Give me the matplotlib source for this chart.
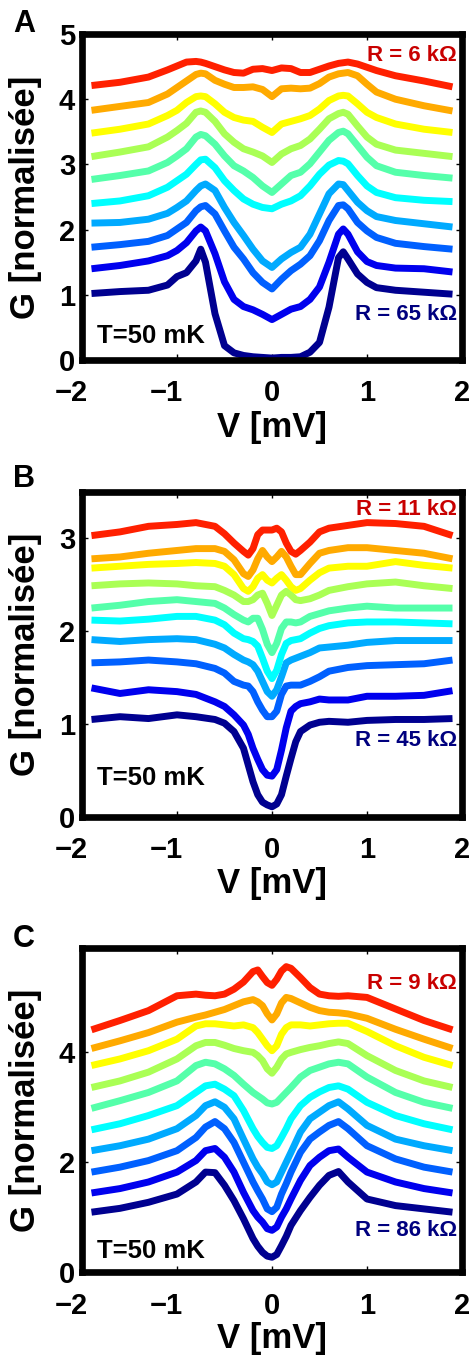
import matplotlib
matplotlib.use("Agg")
import matplotlib.pyplot as plt
from matplotlib.transforms import ScaledTranslation

plt.rcParams["font.family"] = ["Liberation Sans", "DejaVu Sans"]
plt.rcParams["font.weight"] = "bold"
plt.rcParams["axes.labelweight"] = "bold"

# curve colours, top (lowest R) to bottom (highest R)
colors = ["#ff2000", "#ffaa00", "#ffff00", "#aaff55", "#55ffaa",
          "#00ffff", "#00aaff", "#0060ff", "#0000ee", "#000090"]

# ---- panel A ----
v_a = [-1.9, -1.6, -1.3, -1.1, -1.0, -0.9, -0.8, -0.75, -0.7, -0.6, -0.5, -0.4, -0.3, -0.2, -0.1, 0,
       0.1, 0.2, 0.3, 0.4, 0.5, 0.6, 0.7, 0.75, 0.8, 0.9, 1.0, 1.1, 1.3, 1.6, 1.9]
a1 = [4.21, 4.26, 4.34, 4.45, 4.51, 4.57, 4.58, 4.57, 4.55, 4.50, 4.45, 4.41, 4.40, 4.46, 4.47, 4.44,
      4.48, 4.47, 4.41, 4.41, 4.46, 4.51, 4.55, 4.56, 4.57, 4.54, 4.49, 4.44, 4.36, 4.28, 4.19]
a2 = [3.83, 3.89, 3.95, 4.08, 4.18, 4.28, 4.38, 4.40, 4.39, 4.29, 4.23, 4.18, 4.18, 4.19, 4.15, 4.04,
      4.16, 4.17, 4.16, 4.17, 4.24, 4.34, 4.39, 4.40, 4.41, 4.36, 4.23, 4.11, 4.00, 3.90, 3.82]
a3 = [3.48, 3.54, 3.62, 3.75, 3.83, 3.95, 4.04, 4.05, 4.04, 3.93, 3.80, 3.72, 3.68, 3.66, 3.57, 3.49,
      3.62, 3.66, 3.70, 3.75, 3.85, 3.98, 4.05, 4.06, 4.05, 3.93, 3.80, 3.72, 3.62, 3.54, 3.49]
a4 = [3.12, 3.19, 3.27, 3.42, 3.52, 3.63, 3.80, 3.82, 3.80, 3.66, 3.47, 3.34, 3.24, 3.19, 3.13, 3.03,
      3.16, 3.24, 3.29, 3.39, 3.54, 3.70, 3.78, 3.80, 3.77, 3.59, 3.42, 3.31, 3.22, 3.17, 3.12]
a5 = [2.77, 2.83, 2.90, 3.03, 3.13, 3.24, 3.42, 3.46, 3.44, 3.31, 3.13, 2.98, 2.90, 2.80, 2.67, 2.57,
      2.70, 2.83, 2.88, 3.01, 3.19, 3.37, 3.49, 3.51, 3.47, 3.29, 3.11, 2.98, 2.88, 2.83, 2.79]
a6 = [2.40, 2.44, 2.52, 2.65, 2.75, 2.85, 3.00, 3.07, 3.08, 2.95, 2.75, 2.60, 2.47, 2.39, 2.34, 2.32,
      2.39, 2.44, 2.52, 2.67, 2.85, 2.99, 3.06, 3.05, 3.01, 2.83, 2.67, 2.57, 2.49, 2.45, 2.43]
a7 = [2.10, 2.11, 2.16, 2.25, 2.34, 2.44, 2.60, 2.67, 2.70, 2.60, 2.34, 2.11, 1.91, 1.70, 1.52, 1.42,
      1.55, 1.65, 1.73, 1.93, 2.24, 2.55, 2.70, 2.69, 2.60, 2.42, 2.29, 2.20, 2.14, 2.09, 2.04]
a8 = [1.73, 1.77, 1.82, 1.91, 2.01, 2.11, 2.29, 2.35, 2.37, 2.24, 1.98, 1.73, 1.55, 1.34, 1.19, 1.09,
      1.24, 1.37, 1.47, 1.60, 1.83, 2.14, 2.37, 2.38, 2.32, 2.11, 1.98, 1.88, 1.79, 1.74, 1.70]
a9 = [1.40, 1.45, 1.52, 1.60, 1.68, 1.80, 1.98, 2.04, 1.98, 1.63, 1.20, 0.93, 0.82, 0.77, 0.70, 0.62,
      0.70, 0.78, 0.82, 0.93, 1.12, 1.50, 1.93, 2.01, 1.93, 1.66, 1.51, 1.45, 1.41, 1.40, 1.35]
a10 = [1.02, 1.05, 1.07, 1.15, 1.28, 1.34, 1.52, 1.70, 1.50, 0.71, 0.22, 0.11, 0.07, 0.05, 0.04, 0.03,
       0.04, 0.04, 0.05, 0.12, 0.27, 0.81, 1.57, 1.66, 1.55, 1.32, 1.19, 1.11, 1.07, 1.04, 1.01]

# ---- panel B ----
v_b = [-1.9, -1.6, -1.3, -1.0, -0.8, -0.6, -0.5, -0.4, -0.3, -0.25, -0.2, -0.15, -0.1, -0.05, 0,
       0.05, 0.1, 0.15, 0.2, 0.25, 0.3, 0.4, 0.5, 0.6, 0.8, 1.0, 1.3, 1.6, 1.9]
b1 = [3.03, 3.07, 3.13, 3.15, 3.17, 3.13, 3.05, 2.95, 2.86, 2.82, 2.89, 3.04, 3.09, 3.09, 3.09,
      3.11, 3.07, 2.95, 2.86, 2.83, 2.87, 2.96, 3.07, 3.11, 3.14, 3.17, 3.16, 3.13, 3.03]
b2 = [2.78, 2.80, 2.84, 2.87, 2.89, 2.89, 2.86, 2.77, 2.62, 2.59, 2.66, 2.78, 2.87, 2.80, 2.75,
      2.80, 2.86, 2.80, 2.70, 2.61, 2.61, 2.73, 2.84, 2.87, 2.90, 2.90, 2.87, 2.84, 2.78]
b3 = [2.68, 2.70, 2.72, 2.73, 2.74, 2.73, 2.70, 2.61, 2.46, 2.43, 2.48, 2.57, 2.61, 2.55, 2.52,
      2.57, 2.61, 2.55, 2.48, 2.44, 2.46, 2.55, 2.63, 2.68, 2.70, 2.70, 2.75, 2.71, 2.68]
b4 = [2.49, 2.51, 2.52, 2.51, 2.49, 2.48, 2.44, 2.39, 2.32, 2.32, 2.34, 2.39, 2.41, 2.30, 2.17,
      2.28, 2.39, 2.43, 2.39, 2.34, 2.33, 2.35, 2.39, 2.44, 2.48, 2.51, 2.53, 2.49, 2.46]
b5 = [2.25, 2.28, 2.32, 2.34, 2.32, 2.30, 2.25, 2.18, 2.12, 2.10, 2.14, 2.14, 2.02, 1.86, 1.77,
      1.87, 2.03, 2.10, 2.10, 2.09, 2.10, 2.16, 2.19, 2.22, 2.25, 2.27, 2.25, 2.25, 2.25]
b6 = [2.12, 2.11, 2.13, 2.16, 2.16, 2.12, 2.07, 1.98, 1.92, 1.91, 1.89, 1.84, 1.71, 1.57, 1.49,
      1.58, 1.75, 1.87, 1.90, 1.91, 1.92, 1.98, 2.03, 2.06, 2.09, 2.10, 2.10, 2.09, 2.08]
b7 = [1.91, 1.89, 1.91, 1.92, 1.91, 1.86, 1.82, 1.75, 1.69, 1.67, 1.64, 1.57, 1.46, 1.35, 1.30,
      1.37, 1.51, 1.66, 1.69, 1.71, 1.73, 1.77, 1.82, 1.83, 1.85, 1.88, 1.90, 1.90, 1.90]
b8 = [1.66, 1.67, 1.69, 1.67, 1.65, 1.60, 1.55, 1.46, 1.42, 1.41, 1.35, 1.24, 1.15, 1.08, 1.08,
      1.14, 1.32, 1.41, 1.42, 1.42, 1.42, 1.46, 1.51, 1.57, 1.61, 1.63, 1.64, 1.65, 1.69]
b9 = [1.39, 1.33, 1.37, 1.35, 1.32, 1.24, 1.19, 1.10, 0.99, 0.89, 0.74, 0.62, 0.51, 0.45, 0.44,
      0.51, 0.72, 0.96, 1.14, 1.19, 1.22, 1.24, 1.27, 1.26, 1.26, 1.30, 1.30, 1.31, 1.36]
b10 = [1.05, 1.08, 1.06, 1.10, 1.08, 1.05, 1.01, 0.92, 0.74, 0.56, 0.38, 0.24, 0.16, 0.13, 0.11,
       0.14, 0.24, 0.44, 0.63, 0.81, 0.92, 0.99, 1.02, 1.03, 1.02, 1.04, 1.05, 1.05, 1.06]

# ---- panel C ----
v_c = [-1.9, -1.6, -1.3, -1.0, -0.8, -0.7, -0.6, -0.5, -0.4, -0.3, -0.2, -0.15, -0.1, -0.05, 0,
       0.05, 0.1, 0.15, 0.2, 0.3, 0.4, 0.5, 0.6, 0.7, 0.8, 1.0, 1.3, 1.6, 1.9]
c1 = [4.41, 4.58, 4.76, 5.03, 5.06, 5.04, 5.03, 5.06, 5.15, 5.28, 5.47, 5.50, 5.38, 5.27, 5.22,
      5.33, 5.48, 5.56, 5.53, 5.36, 5.18, 5.06, 5.03, 5.02, 5.03, 5.00, 4.79, 4.58, 4.41]
c2 = [4.07, 4.21, 4.36, 4.55, 4.64, 4.68, 4.73, 4.78, 4.85, 4.92, 4.96, 4.92, 4.85, 4.70, 4.59,
      4.70, 4.90, 5.00, 4.98, 4.90, 4.82, 4.76, 4.73, 4.72, 4.70, 4.62, 4.42, 4.24, 4.07]
c3 = [3.76, 3.88, 4.03, 4.24, 4.48, 4.52, 4.52, 4.50, 4.48, 4.50, 4.45, 4.36, 4.24, 4.12, 4.03,
      4.12, 4.33, 4.45, 4.50, 4.50, 4.48, 4.50, 4.52, 4.53, 4.53, 4.38, 4.12, 3.91, 3.76]
c4 = [3.36, 3.48, 3.64, 3.88, 4.12, 4.18, 4.18, 4.13, 4.07, 4.03, 4.00, 3.94, 3.85, 3.70, 3.62,
      3.73, 3.88, 3.97, 4.00, 4.05, 4.09, 4.12, 4.16, 4.19, 4.16, 3.94, 3.67, 3.48, 3.36]
c5 = [2.98, 3.12, 3.27, 3.48, 3.76, 3.82, 3.79, 3.70, 3.58, 3.42, 3.27, 3.21, 3.15, 3.08, 3.06,
      3.09, 3.18, 3.27, 3.36, 3.55, 3.67, 3.73, 3.79, 3.82, 3.79, 3.55, 3.27, 3.09, 2.98]
c6 = [2.59, 2.70, 2.85, 3.03, 3.27, 3.39, 3.42, 3.33, 3.21, 2.94, 2.61, 2.47, 2.36, 2.27, 2.25,
      2.30, 2.45, 2.61, 2.79, 3.03, 3.18, 3.28, 3.36, 3.39, 3.33, 3.09, 2.85, 2.70, 2.59]
c7 = [2.21, 2.30, 2.42, 2.61, 2.85, 3.03, 3.10, 3.00, 2.79, 2.42, 2.06, 1.91, 1.79, 1.64, 1.59,
      1.64, 1.82, 2.00, 2.18, 2.55, 2.79, 2.91, 3.03, 3.10, 2.97, 2.67, 2.42, 2.30, 2.21]
c8 = [1.82, 1.91, 2.03, 2.21, 2.45, 2.64, 2.74, 2.61, 2.36, 2.00, 1.64, 1.48, 1.33, 1.15, 1.10,
      1.18, 1.42, 1.61, 1.82, 2.18, 2.42, 2.55, 2.67, 2.74, 2.61, 2.30, 2.06, 1.91, 1.82]
c9 = [1.44, 1.52, 1.64, 1.82, 2.03, 2.21, 2.25, 2.09, 1.82, 1.45, 1.12, 1.00, 0.91, 0.79, 0.76,
      0.82, 1.00, 1.15, 1.33, 1.67, 1.94, 2.09, 2.21, 2.24, 2.09, 1.82, 1.64, 1.52, 1.44]
c10 = [1.09, 1.16, 1.27, 1.42, 1.64, 1.82, 1.81, 1.58, 1.30, 0.97, 0.61, 0.47, 0.36, 0.29, 0.27,
       0.32, 0.48, 0.65, 0.85, 1.12, 1.36, 1.58, 1.76, 1.83, 1.64, 1.33, 1.21, 1.15, 1.09]

r_top = ["R = 6 k\u03a9", "R = 11 k\u03a9", "R = 9 k\u03a9"]
r_bot = ["R = 65 k\u03a9", "R = 45 k\u03a9", "R = 86 k\u03a9"]
letters = ["A", "B", "C"]


def panel(ax, v, curves, ymax, yticks, rtop, rbot, y_rtop, y_rbot, y_t):
    for g, c in reversed(list(zip(curves, colors))):
        ax.plot(v, g, color=c, lw=5, solid_capstyle="butt", solid_joinstyle="round")
    ax.set_xlim(-2, 2)
    ax.set_ylim(0, ymax)
    ax.set_xticks([-2, -1, 0, 1, 2])
    ax.set_yticks(yticks)
    for s in ax.spines.values():
        s.set_linewidth(4.8)
    ax.tick_params(direction="in", length=4, width=1, top=True, right=True,
                   labelsize=21)
    ax.tick_params(axis="x", pad=14)
    ax.tick_params(axis="y", pad=5)
    # negative labels: keep the digit on the tick, minus hangs left
    shift = ScaledTranslation(-0.11, 0, fig.dpi_scale_trans)
    for tick, val in zip(ax.xaxis.get_major_ticks(), [-2, -1, 0, 1, 2]):
        if val < 0:
            tick.label1.set_transform(tick.label1.get_transform() + shift)
    ax.set_xlabel("V [mV]", fontsize=25)
    ax.set_ylabel("G [normalisée]", fontsize=25)
    ax.xaxis.set_label_coords(0.5, -0.155)
    ax.yaxis.set_label_coords(-0.105, 0.5)
    ax.text(1.95, y_rtop, rtop, color="#c80000", fontsize=16, ha="right", va="baseline")
    ax.text(1.95, y_rbot, rbot, color="#00007f", fontsize=16, ha="right", va="baseline")
    ax.text(-1.84, y_t, "T=50 mK", color="black", fontsize=18.5, ha="left", va="baseline")


fig = plt.figure(figsize=(4.72, 13.56), dpi=100)
ax_a = fig.add_axes([0.1737, 0.7345, 0.8051, 0.2404])
ax_b = fig.add_axes([0.1737, 0.3975, 0.8051, 0.2397])
ax_c = fig.add_axes([0.1737, 0.0619, 0.8051, 0.2390])

panel(ax_a, v_a, [a1, a2, a3, a4, a5, a6, a7, a8, a9, a10], 5.0, [0, 1, 2, 3, 4, 5],
      r_top[0], r_bot[0], 4.59, 0.61, 0.26)
panel(ax_b, v_b, [b1, b2, b3, b4, b5, b6, b7, b8, b9, b10], 3.5, [0, 1, 2, 3],
      r_top[1], r_bot[1], 3.25, 0.76, 0.34)
panel(ax_c, v_c, [c1, c2, c3, c4, c5, c6, c7, c8, c9, c10], 5.9, [0, 2, 4],
      r_top[2], r_bot[2], 5.16, 0.65, 0.25)

for lt, ytop in zip(letters, [32, 487, 947]):
    fig.text(13 / 472, 1 - ytop / 1356, lt, fontsize=22, ha="left", va="baseline")

fig.savefig("out.png", dpi=100)
